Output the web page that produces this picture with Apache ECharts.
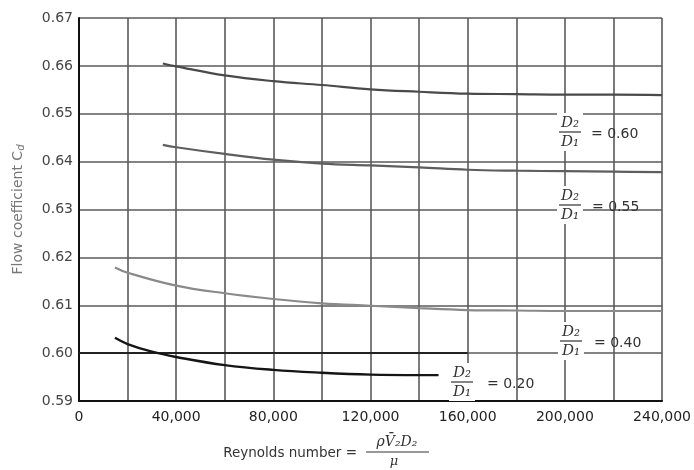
<!DOCTYPE html>
<html><head><meta charset="utf-8">
<script src="https://cdn.jsdelivr.net/npm/echarts@6/dist/echarts.min.js"></script>
<style>html,body{margin:0;padding:0;background:#fff}#c{width:694px;height:470px}</style>
</head><body><div id="c"></div>
<script>
// ---- data ----
const xTickValues = [0, 40000, 80000, 120000, 160000, 200000, 240000];
const xTickLabels = ['0', '40,000', '80,000', '120,000', '160,000', '200,000', '240,000'];
const yTickValues = [0.59, 0.60, 0.61, 0.62, 0.63, 0.64, 0.65, 0.66, 0.67];
const yTickLabels = ['0.59', '0.60', '0.61', '0.62', '0.63', '0.64', '0.65', '0.66', '0.67'];

const re060 = [34500, 40000, 60000, 80000, 100000, 120000, 140000, 160000, 180000, 200000, 220000, 240000];
const cd060 = [0.6605, 0.6599, 0.6580, 0.6568, 0.6560, 0.6551, 0.6546, 0.6542, 0.6541, 0.6540, 0.6540, 0.6539];

const re055 = [34500, 40000, 60000, 80000, 100000, 120000, 140000, 160000, 180000, 200000, 220000, 240000];
const cd055 = [0.6435, 0.6430, 0.6416, 0.6404, 0.6396, 0.6392, 0.6388, 0.6383, 0.6381, 0.6380, 0.6379, 0.6378];

const re040 = [14800, 20000, 40000, 60000, 80000, 100000, 120000, 140000, 160000, 180000, 200000, 220000, 240000];
const cd040 = [0.6179, 0.6168, 0.6141, 0.6125, 0.6113, 0.6104, 0.6099, 0.6094, 0.6090, 0.6089, 0.6088, 0.6088, 0.6088];

const re020 = [14800, 20000, 30000, 40000, 60000, 80000, 100000, 120000, 140000, 148000];
const cd020 = [0.6032, 0.6019, 0.6003, 0.5992, 0.5975, 0.5965, 0.5959, 0.5955, 0.5954, 0.5954];

const ratioLabels = ['0.60', '0.55', '0.40', '0.20'];

// ---- chart ----
const pair = (xs, ys) => xs.map((x, i) => [x, ys[i]]);
const chart = echarts.init(document.getElementById('c'), null, {renderer: 'canvas'});
const FONT = '"DejaVu Sans", sans-serif';
const GRID = '#5a5a5a';

function curve(name, xs, ys, color, w) {
  return {
    name, type: 'line', data: pair(xs, ys), smooth: 0.4, showSymbol: false,
    lineStyle: {color, width: w}, z: 5, animation: false
  };
}

const series = [
  curve('0.60', re060, cd060, '#4a4a4a', 2.2),
  curve('0.55', re055, cd055, '#5e5e5e', 2.2),
  curve('0.40', re040, cd040, '#8a8a8a', 2.2),
  curve('0.20', re020, cd020, '#151515', 2.4)
];
series[3].markLine = {
  silent: true, symbol: 'none', animation: false,
  lineStyle: {color: '#222', width: 1.8, type: 'solid'}, label: {show: false},
  data: [[{coord: [xTickValues[0], yTickValues[1]]}, {coord: [xTickValues[4], yTickValues[1]]}]]
};

chart.setOption({
  backgroundColor: '#fff',
  animation: false,
  grid: {left: 79, right: 31, top: 18, bottom: 69},
  xAxis: {
    type: 'value', min: 0, max: 240000, interval: 20000,
    axisLine: {show: true, onZero: false, lineStyle: {color: '#111', width: 2}},
    axisTick: {show: false},
    splitLine: {show: true, lineStyle: {color: GRID, width: 1.6}},
    axisLabel: {
      margin: 9, color: '#222', fontFamily: FONT, fontSize: 14,
      formatter: v => { const i = xTickValues.indexOf(v); return i >= 0 ? xTickLabels[i] : ''; }
    }
  },
  yAxis: {
    type: 'value', min: 0.59, max: 0.67, interval: 0.01,
    name: 'Flow coefficient C{d|d}', nameLocation: 'middle', nameGap: 53,
    nameTextStyle: {color: '#777', fontFamily: FONT, fontSize: 14,
      rich: {d: {fontSize: 10, fontStyle: 'italic', color: '#777', fontFamily: FONT, padding: [6, 0, 0, 0]}}},
    axisLine: {show: true, lineStyle: {color: '#111', width: 2}},
    axisTick: {show: false},
    splitLine: {show: true, lineStyle: {color: GRID, width: 1.6}},
    axisLabel: {
      margin: 6, color: '#444', fontFamily: FONT, fontSize: 14,
      formatter: v => { const i = yTickValues.findIndex(t => Math.abs(t - v) < 1e-6); return i >= 0 ? yTickLabels[i] : ''; }
    }
  },
  series
});

// ---- fraction labels ----
function fracLabel(cx, cy, eqX, val) {
  return [
    {type: 'rect', shape: {x: cx - 13, y: cy - 19, width: 26, height: 38}, style: {fill: '#fff'}, z: 10},
    {type: 'text', x: cx, y: cy - 9, z: 11, style: {text: 'D₂', font: 'italic 15px "DejaVu Serif", serif', fill: '#333', align: 'center', verticalAlign: 'middle'}},
    {type: 'line', shape: {x1: cx - 11, y1: cy, x2: cx + 11, y2: cy}, style: {stroke: '#333', lineWidth: 1.2}, z: 11},
    {type: 'text', x: cx, y: cy + 10, z: 11, style: {text: 'D₁', font: 'italic 15px "DejaVu Serif", serif', fill: '#333', align: 'center', verticalAlign: 'middle'}},
    {type: 'text', x: eqX, y: cy + 2, z: 11, style: {text: '= ' + val, font: '14px "DejaVu Sans", sans-serif', fill: '#333', align: 'left', verticalAlign: 'middle'}}
  ];
}
const g = [];
g.push(...fracLabel(570, 132, 591, ratioLabels[0]));
g.push(...fracLabel(570, 205, 592, ratioLabels[1]));
g.push(...fracLabel(571, 341, 594, ratioLabels[2]));
g.push(...fracLabel(462, 382, 487, ratioLabels[3]));

// x-axis title with fraction
g.push({type: 'text', x: 357, y: 453, style: {text: 'Reynolds number =', font: '13.5px "DejaVu Sans", sans-serif', fill: '#333', align: 'right', verticalAlign: 'middle'}});
g.push({type: 'text', x: 397, y: 442, style: {text: 'ρV̄₂D₂', font: 'italic 14px "DejaVu Serif", serif', fill: '#333', align: 'center', verticalAlign: 'middle'}});
g.push({type: 'line', shape: {x1: 366, y1: 452, x2: 429, y2: 452}, style: {stroke: '#333', lineWidth: 1}});
g.push({type: 'text', x: 394, y: 462, style: {text: 'μ', font: 'italic 13px "DejaVu Serif", serif', fill: '#333', align: 'center', verticalAlign: 'middle'}});

chart.setOption({graphic: g});
</script>
</body></html>
